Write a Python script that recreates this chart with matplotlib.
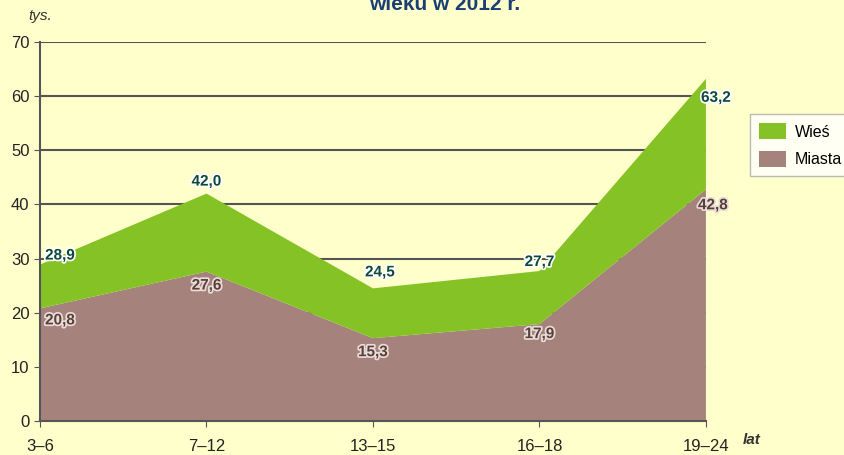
import numpy as np
import matplotlib.pyplot as plt
import matplotlib.patheffects as pe

plt.rcParams["font.family"] = ["Liberation Sans", "DejaVu Sans"]

groups = ["3–6", "7–12", "13–15", "16–18", "19–24"]
miasta = [20.8, 27.6, 15.3, 17.9, 42.8]
razem = [28.9, 42.0, 24.5, 27.7, 63.2]
wies = [r - m for r, m in zip(razem, miasta)]

bg = "#FFFFCC"
c_wies = "#84C225"
c_miasta = "#A5837C"

fig = plt.figure(figsize=(8.44, 4.55), dpi=100, facecolor=bg)
ax = fig.add_axes([0.0474, 0.0747, 0.789, 0.833])
ax.set_facecolor(bg)

x = np.arange(len(groups))
ax.stackplot(x, miasta, wies, colors=[c_miasta, c_wies], labels=["Miasta", "Wieś"], zorder=3)

ax.set_xlim(0, len(groups) - 1)
ax.set_ylim(0, 70)
ax.set_yticks(range(0, 71, 10))
ax.set_xticks(x)
ax.set_xticklabels(groups)
ax.tick_params(axis="both", labelsize=12, color="#555555", length=4, labelcolor="#222222")
ax.tick_params(axis="x", pad=9)
ax.grid(axis="y", color="#555555", linewidth=1.5, zorder=1)
ax.set_axisbelow(True)
for s in ["top", "right"]:
    ax.spines[s].set_visible(False)
for s in ["left", "bottom"]:
    ax.spines[s].set_color("#555555")
    ax.spines[s].set_linewidth(1.5)
    ax.spines[s].set_zorder(4)

outline = [pe.withStroke(linewidth=2.5, foreground="white")]
outline_b = [pe.withStroke(linewidth=2.5, foreground="#E8DCD8")]
offs_top = [(20, 9), (0, 12), (7, 16), (0, 9), (10, -19)]
offs_bot = [(20, -12), (0, -14), (0, -14), (0, -10), (7, -16)]
for i in range(len(groups)):
    dx, dy = offs_top[i]
    ax.annotate(f"{razem[i]:.1f}".replace(".", ","), (x[i], razem[i]), xytext=(dx, dy),
                textcoords="offset pixels", ha="center", va="center", fontsize=11,
                fontweight="bold", color="#0E4A3A", path_effects=outline, zorder=5)
    dx, dy = offs_bot[i]
    ax.annotate(f"{miasta[i]:.1f}".replace(".", ","), (x[i], miasta[i]), xytext=(dx, dy),
                textcoords="offset pixels", ha="center", va="center", fontsize=11,
                fontweight="bold", color="#5A3E3A", path_effects=outline_b, zorder=5)

fig.text(0.048, 0.955, "tys.", fontsize=11, style="italic", color="#333333", ha="center")
fig.text(0.880, 0.025, "lat", fontsize=11, style="italic", fontweight="bold", color="#333333")
fig.text(0.527, 0.99, "wieku w 2012 r.", fontsize=15, fontweight="bold", color="#1B3F73",
         ha="center", va="center")

handles, labels = ax.get_legend_handles_labels()
leg = fig.legend(handles[::-1], labels[::-1], loc="upper left", bbox_to_anchor=(0.889, 0.749),
                 borderaxespad=0, fontsize=11.5, frameon=True, fancybox=False,
                 handlelength=1.7, handleheight=1.2, borderpad=0.55, labelspacing=0.7,
                 handletextpad=0.55)
leg.get_frame().set_edgecolor("#AAAAAA")
leg.get_frame().set_facecolor("#FFFFFF")

fig.savefig("out.png", dpi=100, facecolor=bg)
